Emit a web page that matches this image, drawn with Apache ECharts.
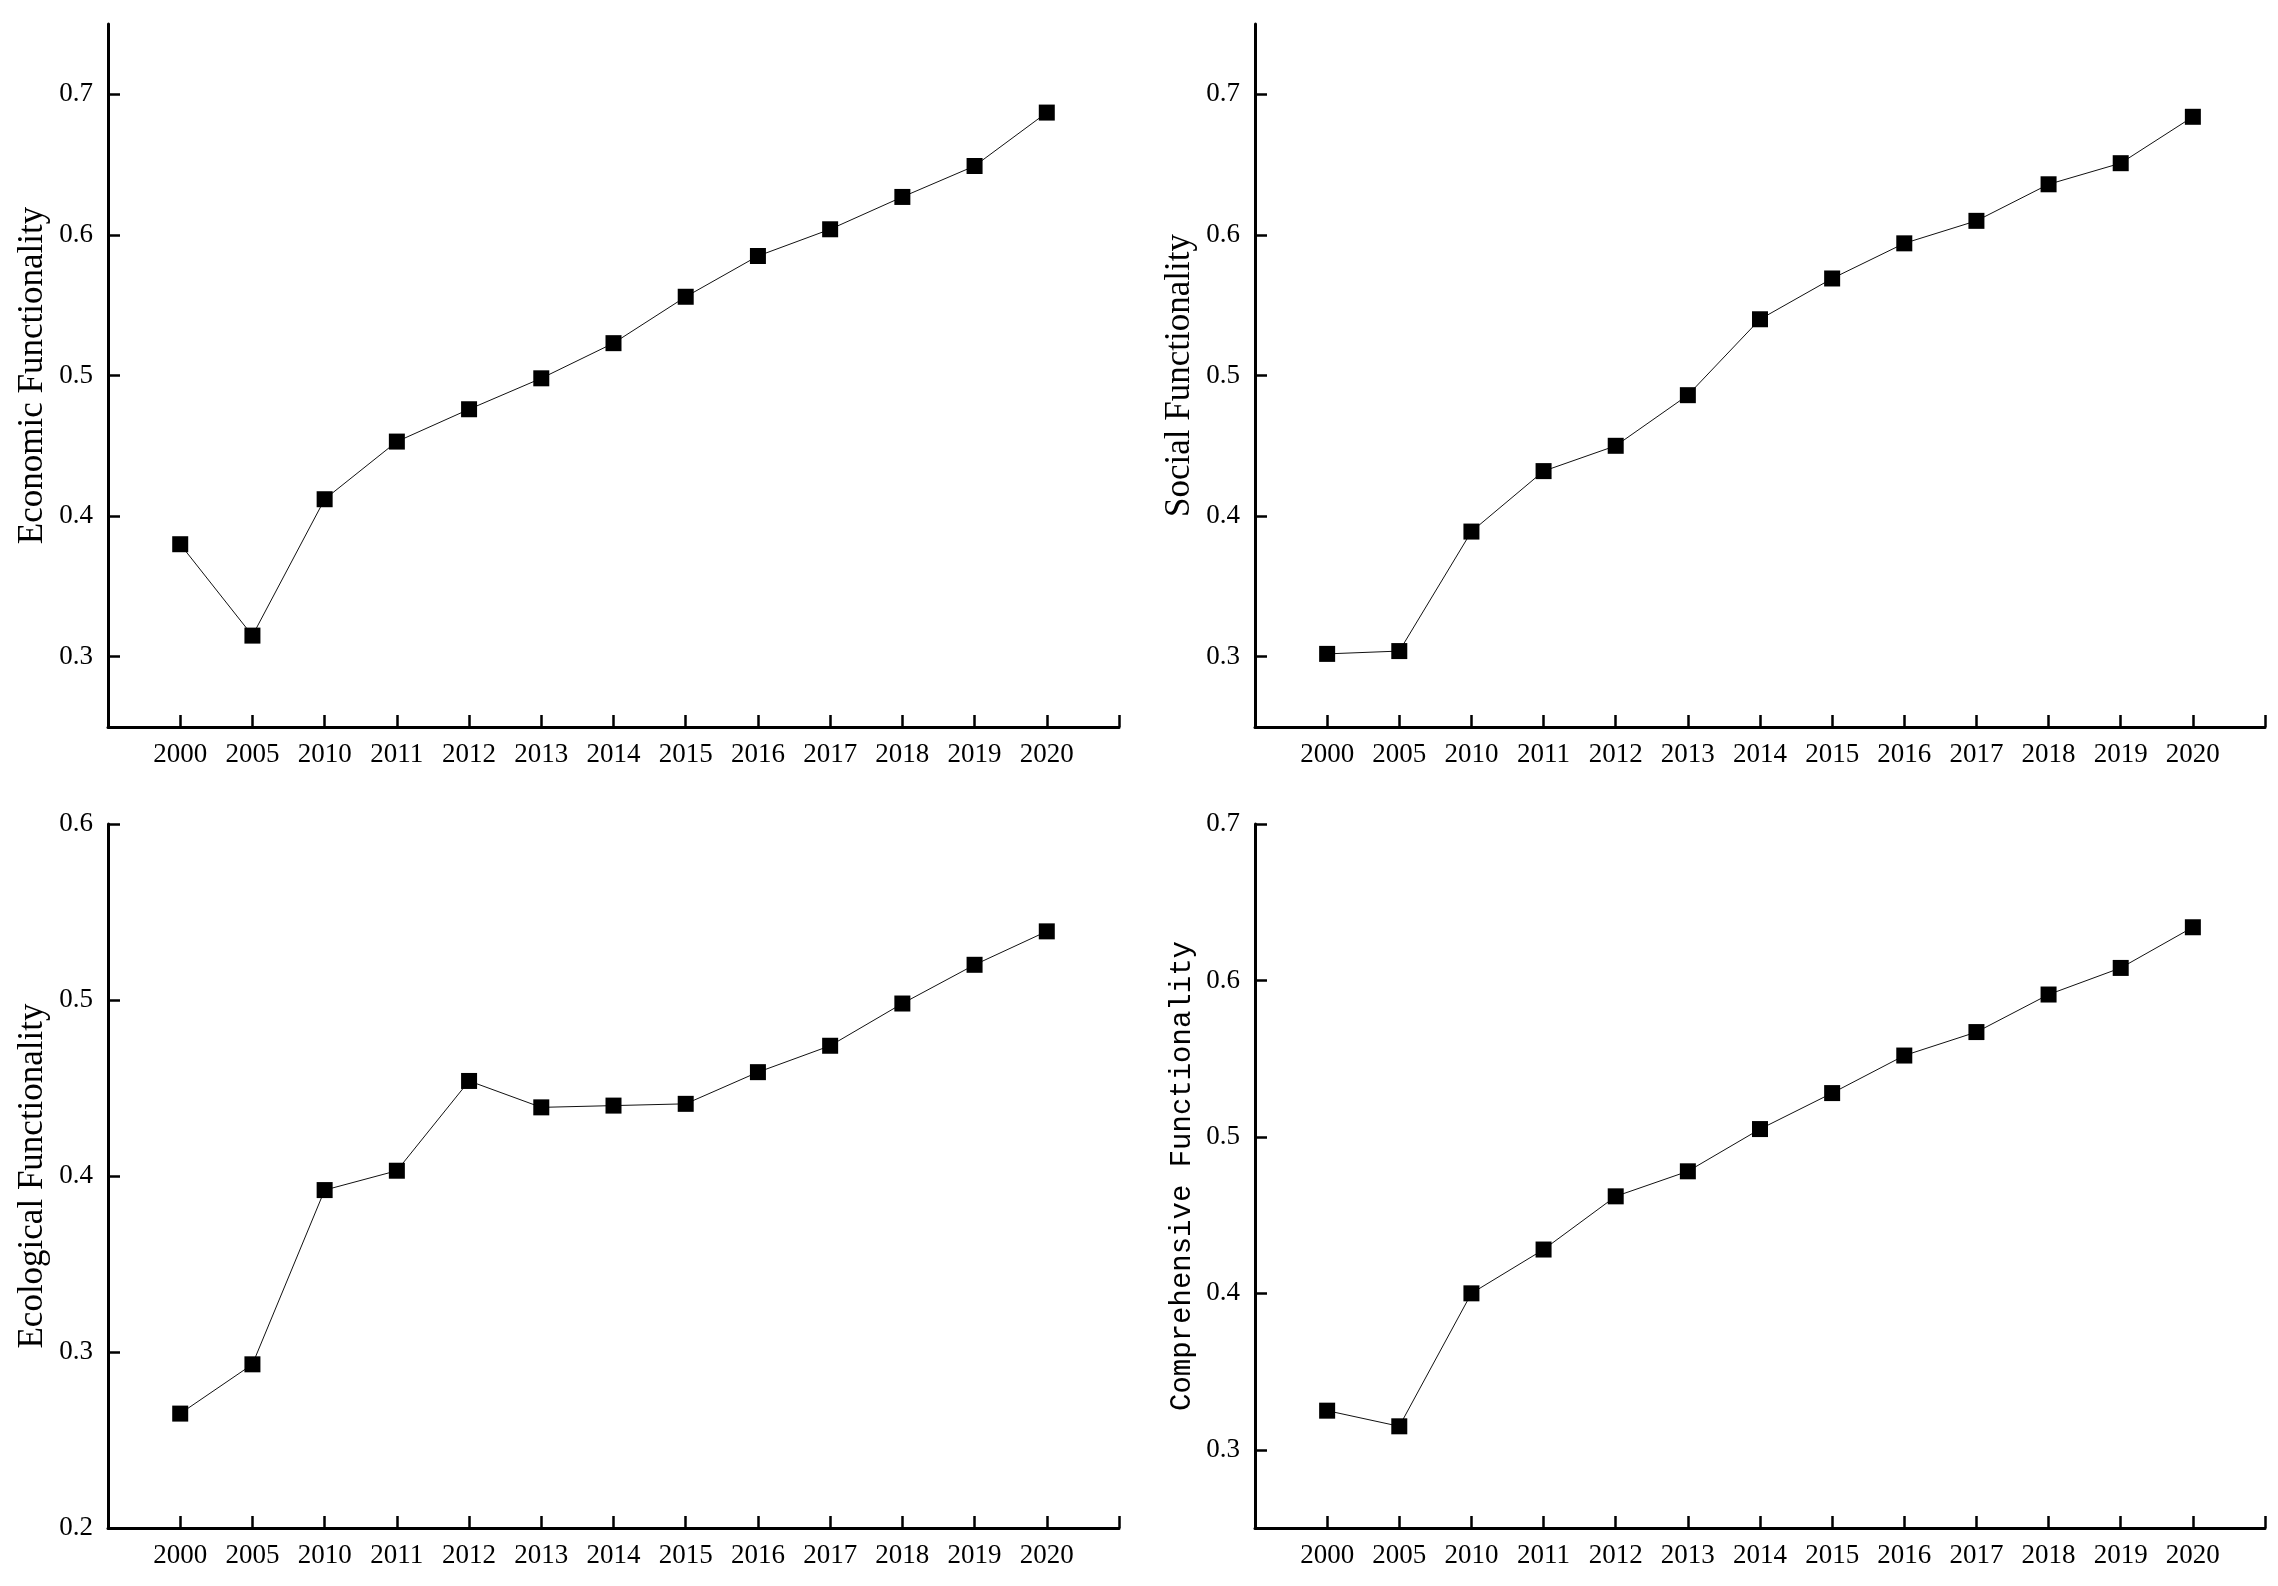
<!DOCTYPE html>
<html><head><meta charset="utf-8">
<script src="https://cdn.jsdelivr.net/npm/echarts@6/dist/echarts.min.js"></script>
<style>html,body{margin:0;background:#fff}#c{width:2278px;height:1586px}</style>
</head><body><div id="c"></div>
<script>
const years = ['2000','2005','2010','2011','2012','2013','2014','2015','2016','2017','2018','2019','2020'];
const economic      = [0.380,0.315,0.412,0.453,0.476,0.498,0.523,0.556,0.585,0.604,0.627,0.649,0.687];
const social        = [0.302,0.304,0.389,0.432,0.450,0.486,0.540,0.569,0.594,0.610,0.636,0.651,0.684];
const ecological    = [0.265,0.293,0.392,0.403,0.454,0.439,0.440,0.441,0.459,0.474,0.498,0.520,0.539];
const comprehensive = [0.325,0.315,0.400,0.428,0.462,0.478,0.505,0.528,0.552,0.567,0.591,0.608,0.634];
const ticksEconomic = [0.3,0.4,0.5,0.6,0.7];
const ticksSocial = [0.3,0.4,0.5,0.6,0.7];
const ticksEcological = [0.2,0.3,0.4,0.5,0.6];
const ticksComprehensive = [0.3,0.4,0.5,0.6,0.7];

const panels = [
  {name:'Economic Functionality', data:economic, min:0.25, max:0.75, ticks:ticksEconomic, font:'Liberation Serif', size:35},
  {name:'Social Functionality', data:social, min:0.25, max:0.75, ticks:ticksSocial, font:'Liberation Serif', size:35},
  {name:'Ecological Functionality', data:ecological, min:0.2, max:0.6, ticks:ticksEcological, font:'Liberation Serif', size:35},
  {name:'Comprehensive Functionality', data:comprehensive, min:0.25, max:0.7, ticks:ticksComprehensive, font:'Liberation Mono', size:29}
];
const grids = [
  {left:108, top:24, width:1011, height:703},
  {left:1255, top:24, width:1010, height:703},
  {left:108, top:824, width:1011, height:704},
  {left:1255, top:824, width:1010, height:704}
];
const idx = years.map((y,i)=>i);
const lblFont = {fontFamily:'Liberation Serif', fontSize:27, color:'#000'};
const axisLine = {show:true, onZero:false, lineStyle:{color:'#000', width:3}};
const option = {
  animation:false,
  backgroundColor:'#fff',
  grid: grids,
  xAxis: panels.map((p,i)=>({
    type:'value', gridIndex:i, min:-1, max:13,
    axisLine: axisLine,
    axisTick:{show:true, inside:true, length:12, lineStyle:{color:'#000', width:2.5}, customValues: idx.concat([13])},
    axisLabel:Object.assign({margin:14, customValues: idx, formatter: v => years[Math.round(v)] || ''}, lblFont),
    splitLine:{show:false}
  })),
  yAxis: panels.map((p,i)=>({
    type:'value', gridIndex:i, min:p.min, max:p.max,
    name:p.name, nameLocation:'middle', nameGap:58,
    nameTextStyle:{fontFamily:p.font, fontSize:p.size, color:'#000'},
    axisLine: axisLine,
    axisTick:{show:true, inside:true, length:12, lineStyle:{color:'#000', width:2.5}, customValues:p.ticks},
    axisLabel:Object.assign({margin:15, customValues:p.ticks, formatter: v => v.toFixed(1)}, lblFont),
    splitLine:{show:false}
  })),
  series: panels.map((p,i)=>({
    type:'line', xAxisIndex:i, yAxisIndex:i,
    data: p.data.map((v,j)=>[j,v]),
    symbol:'rect', symbolSize:16,
    itemStyle:{color:'#000'},
    lineStyle:{color:'#111', width:1}
  }))
};
echarts.init(document.getElementById('c')).setOption(option);
</script>
</body></html>
